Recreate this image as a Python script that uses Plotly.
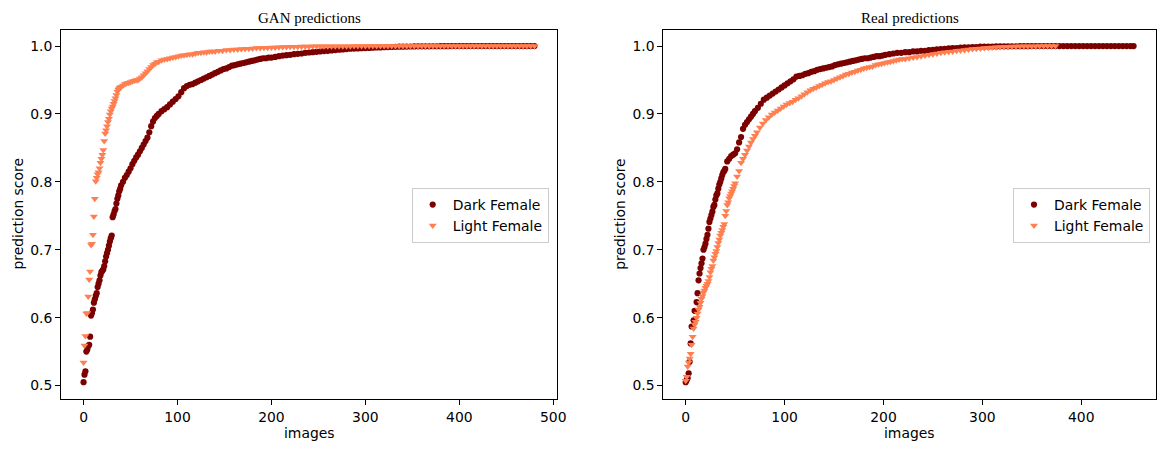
import plotly.graph_objects as go

# ---------------- data (sorted prediction scores) ----------------
gan_dark_idx = [0, 1, 2, 3, 4, 5, 6, 7, 8, 9,
                10, 11, 12, 13, 14, 15, 16, 17, 18, 19,
                20, 21, 22, 23, 24, 25, 26, 27, 28, 29,
                30, 31, 32, 33, 34, 35, 36, 37, 38, 39,
                40, 42, 44, 46, 48, 50, 52, 54, 56, 58,
                60, 62, 64, 66, 68, 70, 72, 74, 76, 78,
                80, 83, 86, 89, 92, 95, 98, 101, 104, 107,
                110, 113, 116, 119, 122, 125, 128, 131, 134, 137,
                140, 143, 146, 149, 152, 155, 158, 161, 164, 167,
                170, 173, 176, 179, 182, 185, 188, 191, 194, 197,
                200, 204, 208, 212, 216, 220, 224, 228, 232, 236,
                240, 244, 248, 252, 256, 260, 264, 268, 272, 276,
                280, 284, 288, 292, 296, 300, 304, 308, 312, 316,
                320, 324, 328, 332, 336, 340, 344, 348, 352, 356,
                360, 364, 368, 372, 376, 380, 384, 388, 392, 396,
                400, 404, 408, 412, 416, 420, 424, 428, 432, 436,
                440, 444, 448, 452, 456, 460, 464, 468, 472, 476,
                480]
gan_dark_score = [.505, .516, .521, .550, .553, .558, .560, .572, .603, .607,
                  .612, .622, .627, .632, .636, .645, .650, .655, .662, .667,
                  .669, .671, .676, .683, .690, .695, .700, .706, .712, .717,
                  .721, .748, .752, .757, .760, .768, .775, .780, .786, .790,
                  .795, .800, .806, .810, .815, .820, .826, .831, .836, .840,
                  .845, .850, .855, .860, .865, .873, .882, .889, .894, .897,
                  .900, .904, .907, .910, .914, .918, .922, .926, .932, .938,
                  .941, .943, .944, .946, .948, .950, .952, .954, .956, .958,
                  .960, .962, .964, .966, .967, .969, .971, .972, .973, .974,
                  .975, .976, .977, .978, .979, .980, .981, .982, .982, .983,
                  .983, .984, .985, .986, .9865, .987, .988, .9885, .989, .990,
                  .9905, .991, .9915, .992, .9925, .993, .9935, .994, .9945, .995,
                  .9955, .996, .9962, .9965, .9968, .997, .9972, .9975, .9978, .998,
                  .9982, .9984, .9986, .9988, .999, .9991, .9992, .9993, .9994, .9995,
                  .9995, .9996, .9996, .9997, .9997, .9998, .9998, .9998, .9999, .9999,
                  .9999, .9999, .9999, 1.0, 1.0, 1.0, 1.0, 1.0, 1.0, 1.0,
                  1.0, 1.0, 1.0, 1.0, 1.0, 1.0, 1.0, 1.0, 1.0, 1.0,
                  1.0]

gan_light_idx = [0, 1, 2, 3, 4, 5, 6, 7, 8, 9,
                 10, 11, 12, 13, 14, 15, 16, 17, 18, 19,
                 20, 21, 22, 23, 24, 25, 26, 27, 28, 29,
                 30, 31, 32, 33, 34, 35, 36, 37, 38, 39,
                 40, 42, 44, 46, 48, 50, 52, 54, 56, 58,
                 60, 62, 64, 66, 68, 70, 72, 74, 76, 78,
                 80, 83, 86, 89, 92, 95, 98, 101, 104, 107,
                 110, 113, 116, 119, 122, 125, 128, 131, 134, 137,
                 140, 144, 148, 152, 156, 160, 164, 168, 172, 176,
                 180, 184, 188, 192, 196, 200, 204, 208, 212, 216,
                 220, 224, 228, 232, 236, 240, 244, 248, 252, 256,
                 260, 264, 268, 272, 276, 280, 284, 288, 292, 296,
                 300, 304, 308, 312, 316, 320, 324, 328, 332, 336,
                 340, 344, 348, 352, 356, 360, 364, 368, 372, 376,
                 380, 384, 388, 392, 396, 400, 404, 408, 412, 416,
                 420, 424, 428, 432, 436, 440, 444, 448, 452, 456,
                 460, 464, 468, 472, 476, 480]
gan_light_score = [.534, .559, .573, .606, .607, .631, .656, .668, .707, .709,
                   .722, .749, .775, .801, .806, .811, .814, .820, .828, .834,
                   .840, .847, .860, .871, .876, .882, .888, .893, .899, .904,
                   .908, .911, .915, .919, .923, .928, .933, .936, .938, .939,
                   .940, .942, .944, .945, .946, .947, .948, .949, .950, .950,
                   .952, .954, .957, .960, .963, .966, .969, .972, .974, .976,
                   .977, .979, .980, .981, .982, .983, .984, .985, .986, .9865,
                   .987, .988, .988, .989, .990, .990, .991, .991, .992, .992,
                   .992, .993, .993, .994, .994, .995, .995, .9955, .996, .996,
                   .9965, .997, .997, .9975, .9975, .998, .998, .9983, .9985, .9987,
                   .999, .999, .9991, .9992, .9993, .9994, .9995, .9995, .9996, .9996,
                   .9997, .9997, .9997, .9998, .9998, .9998, .9998, .9999, .9999, .9999,
                   .9999, .9999, .9999, 1.0, 1.0, 1.0, 1.0, 1.0, 1.0, 1.0,
                   1.0, 1.0, 1.0, 1.0, 1.0, 1.0, 1.0, 1.0, 1.0, 1.0,
                   1.0, 1.0, 1.0, 1.0, 1.0, 1.0, 1.0, 1.0, 1.0, 1.0,
                   1.0, 1.0, 1.0, 1.0, 1.0, 1.0, 1.0, 1.0, 1.0, 1.0,
                   1.0, 1.0, 1.0, 1.0, 1.0, 1.0]

real_dark_idx = [0, 1, 2, 3, 4, 5, 6, 8, 9, 11,
                 12, 13, 14, 15, 16, 17, 18, 19, 20, 21,
                 22, 23, 24, 25, 26, 27, 28, 29, 30, 31,
                 32, 33, 34, 35, 36, 37, 38, 39, 40, 42,
                 44, 46, 48, 50, 52, 54, 56, 58, 60, 62,
                 64, 66, 68, 70, 73, 76, 79, 82, 85, 88,
                 91, 94, 97, 100, 103, 106, 109, 112, 115, 118,
                 121, 124, 127, 130, 133, 136, 139, 142, 145, 148,
                 151, 154, 157, 160, 163, 166, 169, 172, 175, 178,
                 181, 184, 187, 190, 193, 196, 199, 202, 206, 210,
                 214, 218, 222, 226, 230, 234, 238, 242, 246, 250,
                 254, 258, 262, 266, 270, 274, 278, 282, 286, 290,
                 294, 298, 302, 306, 310, 314, 318, 322, 326, 330,
                 334, 338, 342, 346, 350, 354, 358, 362, 366, 370,
                 374, 378, 382, 386, 390, 394, 398, 402, 406, 410,
                 414, 418, 422, 426, 430, 434, 438, 442, 446, 450,
                 453]
real_dark_score = [.505, .508, .511, .518, .535, .562, .587, .596, .610, .623,
                   .636, .655, .665, .673, .680, .687, .700, .704, .709, .716,
                   .722, .731, .741, .746, .751, .756, .763, .766, .774, .780,
                   .783, .790, .796, .800, .805, .810, .814, .816, .819, .830,
                   .834, .838, .840, .842, .848, .858, .866, .878, .884, .888,
                   .892, .896, .900, .904, .909, .915, .921, .924, .927, .930,
                   .933, .936, .939, .942, .945, .948, .951, .955, .956, .957,
                   .959, .960, .962, .963, .965, .966, .967, .968, .969, .970,
                   .972, .973, .974, .975, .976, .977, .978, .979, .980, .981,
                   .982, .982, .983, .984, .985, .985, .986, .987, .988, .989,
                   .990, .990, .991, .991, .992, .992, .993, .993, .994, .9945,
                   .995, .9955, .996, .9965, .997, .997, .9975, .998, .998, .9985,
                   .9985, .999, .999, .9992, .9993, .9994, .9995, .9996, .9996, .9997,
                   .9997, .9998, .9998, .9998, .9999, .9999, .9999, .9999, 1.0, 1.0,
                   1.0, 1.0, 1.0, 1.0, 1.0, 1.0, 1.0, 1.0, 1.0, 1.0,
                   1.0, 1.0, 1.0, 1.0, 1.0, 1.0, 1.0, 1.0, 1.0, 1.0,
                   1.0]

real_light_idx = [0, 1, 2, 3, 4, 5, 6, 7, 8, 9,
                  10, 11, 12, 13, 14, 15, 16, 17, 18, 19,
                  20, 21, 22, 23, 24, 25, 26, 27, 28, 29,
                  30, 31, 32, 33, 34, 35, 36, 37, 38, 39,
                  40, 41, 42, 43, 44, 45, 46, 47, 48, 49,
                  50, 52, 54, 56, 58, 60, 62, 64, 66, 68,
                  70, 72, 75, 78, 81, 84, 87, 90, 93, 96,
                  99, 102, 105, 108, 111, 114, 117, 120, 123, 126,
                  129, 132, 135, 138, 141, 144, 147, 150, 153, 156,
                  159, 162, 165, 168, 171, 174, 177, 180, 183, 186,
                  189, 192, 195, 198, 201, 204, 207, 210, 213, 216,
                  219, 222, 226, 230, 234, 238, 242, 246, 250, 254,
                  258, 262, 266, 270, 274, 278, 282, 286, 290, 294,
                  298, 302, 306, 310, 314, 318, 322, 326, 330, 334,
                  338, 342, 346, 350, 354, 358, 362, 366, 370, 374]
real_light_score = [.507, .513, .528, .534, .540, .547, .560, .572, .584, .590,
                    .594, .600, .606, .612, .616, .622, .628, .632, .637, .640,
                    .644, .647, .650, .654, .660, .667, .672, .676, .684, .689,
                    .694, .698, .704, .710, .715, .721, .725, .729, .734, .738,
                    .750, .757, .766, .770, .776, .779, .783, .786, .790, .794,
                    .798, .808, .816, .828, .834, .840, .846, .852, .858, .863,
                    .868, .873, .880, .886, .891, .895, .899, .902, .905, .908,
                    .911, .914, .916, .918, .921, .923, .926, .929, .932, .935,
                    .937, .939, .941, .943, .945, .947, .948, .950, .952, .954,
                    .956, .958, .959, .961, .962, .964, .965, .967, .968, .969,
                    .970, .972, .973, .974, .975, .976, .977, .978, .979, .980,
                    .981, .981, .982, .983, .984, .985, .986, .987, .988, .989,
                    .990, .991, .9915, .992, .993, .9935, .994, .995, .9955, .996,
                    .9965, .997, .9975, .998, .9983, .9986, .9988, .999, .9992, .9993,
                    .9995, .9996, .9997, .9998, .9998, .9999, .9999, 1.0, 1.0, 1.0]

series_names = ["Dark Female", "Light Female"]
panel_titles = ["GAN predictions", "Real predictions"]
x_ticks_gan = [0, 100, 200, 300, 400, 500]
x_ticks_real = [0, 100, 200, 300, 400]
y_ticks = [0.5, 0.6, 0.7, 0.8, 0.9, 1.0]
x_label = "images"
y_label = "prediction score"

for a, b in [(gan_dark_idx, gan_dark_score), (gan_light_idx, gan_light_score),
             (real_dark_idx, real_dark_score), (real_light_idx, real_light_score)]:
    assert len(a) == len(b), (len(a), len(b))

# ---------------- style ----------------
W, H = 1165, 449
DARK = "#7b0000"
LIGHT = "#ff7f50"
SANS = "DejaVu Sans"
SERIF = "Liberation Serif"
FS = 13.9


def padded(lo, hi):
    m = (hi - lo) * 0.05
    return [lo - m, hi + m]


fig = go.Figure()

panels = [
    ("x", "y", gan_dark_idx, gan_dark_score, gan_light_idx, gan_light_score, "legend"),
    ("x2", "y2", real_dark_idx, real_dark_score, real_light_idx, real_light_score, "legend2"),
]
for xa, ya, dx, dy, lx, ly, lg in panels:
    fig.add_trace(go.Scatter(x=dx, y=dy, mode="markers", name=series_names[0], xaxis=xa, yaxis=ya,
                             legend=lg, marker=dict(symbol="circle", size=6.2, color=DARK, line=dict(width=0))))
    fig.add_trace(go.Scatter(x=lx, y=ly, mode="markers", name=series_names[1], xaxis=xa, yaxis=ya,
                             legend=lg, marker=dict(symbol="triangle-down", size=7, color=LIGHT, line=dict(width=0))))

# pixel geometry of the two axes boxes
boxes = [(61, 557), (663.3, 1156)]
top, bottom = 30, 399
ydom = [1 - bottom / H, 1 - top / H]

axis_common = dict(showline=True, linecolor="black", linewidth=1, mirror=True, ticks="outside",
                   ticklen=5, tickwidth=1, tickcolor="black", showgrid=False, zeroline=False,
                   automargin=False, tickfont=dict(family=SANS, size=FS, color="black"))
yr = [0.4802, 1.0236]

legend_common = dict(xanchor="left", yanchor="top", bgcolor="white", bordercolor="#cccccc",
                     borderwidth=1, font=dict(family=SANS, size=FS, color="black"), tracegroupgap=0)

fig.update_layout(
    xaxis=dict(domain=[boxes[0][0] / W, boxes[0][1] / W],
               range=padded(0, max(gan_dark_idx + gan_light_idx)), tickvals=x_ticks_gan,
               anchor="y", **axis_common),
    yaxis=dict(domain=ydom, range=yr, tickvals=y_ticks, tickformat=".1f", anchor="x", **axis_common),
    xaxis2=dict(domain=[boxes[1][0] / W, boxes[1][1] / W],
                range=padded(0, max(real_dark_idx + real_light_idx)), tickvals=x_ticks_real,
                anchor="y2", **axis_common),
    yaxis2=dict(domain=ydom, range=yr, tickvals=y_ticks, tickformat=".1f", anchor="x2", **axis_common),
    legend=dict(x=411.7 / W, y=1 - 188 / H, **legend_common),
    legend2=dict(x=1013 / W, y=1 - 188 / H, **legend_common),
    width=W, height=H, margin=dict(l=0, r=0, t=0, b=0),
    paper_bgcolor="white", plot_bgcolor="white", showlegend=True,
)

for (x0, x1), t in zip(boxes, panel_titles):
    cx = (x0 + x1) / 2
    # panel title
    fig.add_annotation(text=t, x=cx / W, y=1 - 18 / H, xref="paper", yref="paper",
                       xanchor="center", yanchor="middle", showarrow=False,
                       font=dict(family=SERIF, size=15, color="black"))
    # x axis label
    fig.add_annotation(text=x_label, x=cx / W, y=1 - 433 / H, xref="paper", yref="paper",
                       xanchor="center", yanchor="middle", showarrow=False,
                       font=dict(family=SANS, size=FS, color="black"))
    # y axis label
    fig.add_annotation(text=y_label, x=(x0 - 43) / W, y=1 - (top + bottom) / 2 / H,
                       xref="paper", yref="paper", textangle=-90,
                       xanchor="center", yanchor="middle", showarrow=False,
                       font=dict(family=SANS, size=FS, color="black"))

fig.write_html("out.html", config={"displayModeBar": False},
               post_script="document.body.style.margin='0px';document.body.style.overflow='hidden';")
